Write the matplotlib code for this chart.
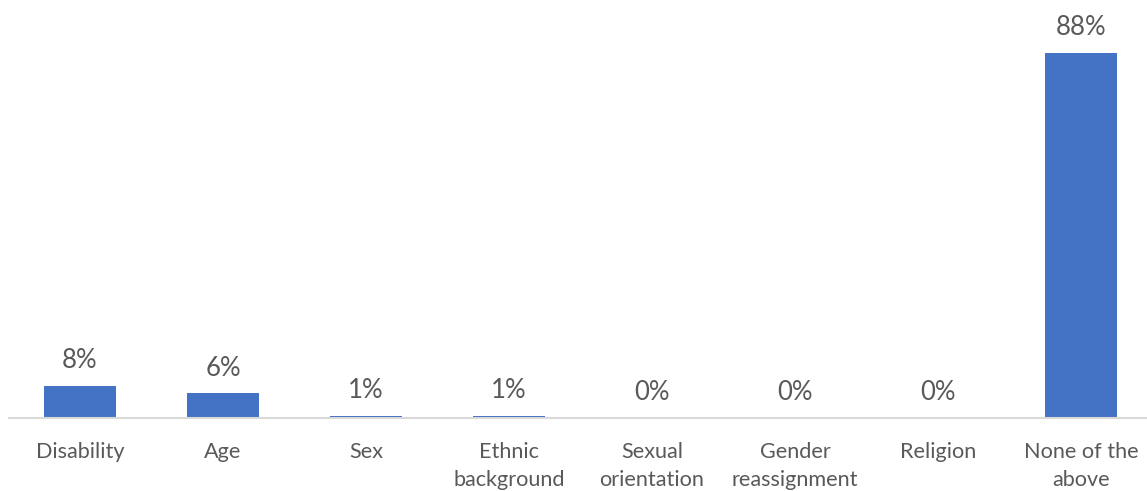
import matplotlib.pyplot as plt

categorias = ['Disability', 'Age', 'Sex', 'Ethnic\nbackground', 'Sexual\norientation',
              'Gender\nreassignment', 'Religion', 'None of the\nabove']
valores = [7.8, 6.0, 0.6, 0.6, 0.0, 0.0, 0.0, 88.0]
rotulos = ['8%', '6%', '1%', '1%', '0%', '0%', '0%', '88%']

plt.rcParams['font.family'] = ['Lato', 'DejaVu Sans']
cor_texto = '#595959'

fig = plt.figure(figsize=(11.47, 4.91), dpi=100)
ax = fig.add_axes([8.5 / 1147, 73 / 491, 1144 / 1147, 415 / 491])

x = range(len(categorias))
barras = ax.bar(x, valores, width=0.5, color='#4472C4')
for b, r in zip(barras, rotulos):
    ax.annotate(r, (b.get_x() + b.get_width() / 2, b.get_height()),
                xytext=(0, 9), textcoords='offset points',
                ha='center', va='bottom', fontsize=18.5, color=cor_texto)

ax.set_xlim(-0.5, len(categorias) - 0.5)
ax.set_ylim(0, 100)
ax.set_xticks(list(x))
ax.set_xticklabels(categorias, fontsize=15.6, color=cor_texto, linespacing=1.5)
ax.tick_params(axis='x', length=0, pad=17)
ax.set_yticks([])
for lado in ['top', 'right', 'left']:
    ax.spines[lado].set_visible(False)
ax.spines['bottom'].set_color('#D9D9D9')
ax.spines['bottom'].set_linewidth(1.5)

fig.savefig('out.png', dpi=100)
